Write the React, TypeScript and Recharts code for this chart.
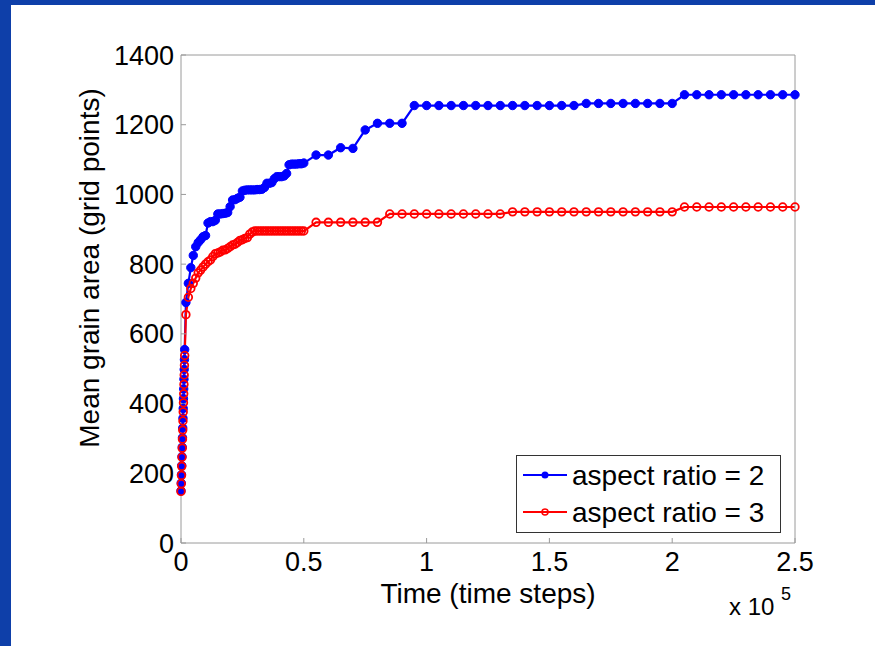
import React from "react";
import { LineChart, Line, XAxis, YAxis, Legend, Label } from "recharts";

// time steps (x axis is shown in units of 10^5)
const timeSteps = [
  0, 100, 200, 300, 400, 500, 600, 700, 800, 900, 1000, 1100, 1200, 1300, 1400, 1500,
  2000, 3000, 4000, 5000, 6000, 7000, 8000, 9000, 10000, 11000, 12000, 13000, 14000, 15000,
  16000, 17000, 18000, 19000, 20000, 21000, 22000, 23000, 24000, 25000, 26000, 27000, 28000,
  29000, 30000, 31000, 32000, 33000, 34000, 35000, 36000, 37000, 38000, 39000, 40000, 41000,
  42000, 43000, 44000, 45000, 46000, 47000, 48000, 49000, 50000,
  55000, 60000, 65000, 70000, 75000, 80000, 85000, 90000, 95000, 100000, 105000, 110000,
  115000, 120000, 125000, 130000, 135000, 140000, 145000, 150000, 155000, 160000, 165000,
  170000, 175000, 180000, 185000, 190000, 195000, 200000, 205000, 210000, 215000, 220000,
  225000, 230000, 235000, 240000, 245000, 250000,
];

// aspect ratio = 2
const areaRatio2 = [
  150, 172, 196, 222, 248, 275, 302, 330, 358, 386, 414, 442, 470, 498, 526, 555,
  690, 745, 790, 825, 850, 862, 870, 879, 882, 918, 922, 922, 926, 944,
  944, 945, 946, 948, 965, 984, 985, 989, 992, 1010, 1012, 1013, 1013,
  1013, 1013, 1014, 1014, 1015, 1020, 1032, 1032, 1034, 1045, 1051, 1051, 1051,
  1053, 1060, 1085, 1087, 1087, 1087, 1088, 1088, 1090,
  1113, 1113, 1134, 1132, 1185, 1204, 1204, 1204, 1255, 1255, 1255, 1255,
  1255, 1255, 1255, 1255, 1255, 1255, 1255, 1255, 1255, 1255, 1261,
  1261, 1261, 1261, 1261, 1261, 1261, 1261, 1286, 1286, 1286, 1286,
  1286, 1286, 1286, 1286, 1286, 1286,
];

// aspect ratio = 3
const areaRatio3 = [
  148, 170, 194, 220, 246, 272, 298, 324, 350, 376, 402, 428, 455, 482, 510, 538,
  655, 705, 730, 745, 760, 775, 783, 792, 800, 807, 812, 822, 830, 832,
  835, 840, 841, 845, 850, 855, 857, 862, 868, 870, 874, 876, 886,
  892, 895, 895, 895, 895, 895, 895, 895, 895, 895, 895, 895, 895,
  895, 895, 895, 895, 895, 895, 895, 895, 895,
  920, 920, 920, 920, 920, 920, 944, 944, 944, 944, 944, 944,
  944, 944, 944, 944, 950, 950, 950, 950, 950, 950, 950,
  950, 950, 950, 950, 950, 950, 950, 964, 964, 964, 964,
  964, 964, 964, 964, 964, 964,
];

const xTicks = [0, 50000, 100000, 150000, 200000, 250000];
const yTicks = [0, 200, 400, 600, 800, 1000, 1200, 1400];
const seriesNames = ["aspect ratio = 2", "aspect ratio = 3"];

const data = timeSteps.map((t, i) => ({ t, r2: areaRatio2[i], r3: areaRatio3[i] }));

const FONT = '"Liberation Sans", Arial, Helvetica, sans-serif';
const AXIS = "#9a9a9a";

const fmtX = (v: number) => String(v / 100000);

function LegendBox() {
  return (
    <svg width={265} height={78} style={{ display: "block" }}>
      <rect x={0.5} y={0.5} width={264} height={77} fill="#fff" stroke="#333" />
      {seriesNames.map((name, i) => {
        const cy = 20 + i * 37;
        const color = i === 0 ? "#0000ff" : "#ff0000";
        return (
          <g key={name}>
            <line x1={7} x2={51} y1={cy} y2={cy} stroke={color} strokeWidth={2} />
            {i === 0 ? (
              <circle cx={29} cy={cy} r={3.5} fill={color} />
            ) : (
              <circle cx={29} cy={cy} r={3} fill="none" stroke={color} strokeWidth={1.5} />
            )}
            <text x={56} y={cy + 10} fontSize={28} fontFamily={FONT} fill="#000">
              {name}
            </text>
          </g>
        );
      })}
    </svg>
  );
}

export default function App() {
  return (
    <div style={{ position: "absolute", left: 0, top: 0, width: 875, height: 646, background: "#0e3fa9" }}>
      <div style={{ position: "absolute", left: 11, top: 5, width: 864, height: 641, background: "#fff" }} />
      <div style={{ position: "absolute", left: 0, top: 0 }}>
        <LineChart
          width={875}
          height={646}
          data={data}
          margin={{ top: 54, right: 79, bottom: 73, left: 121 }}
          style={{ fontFamily: FONT }}
        >
          <XAxis
            dataKey="t"
            type="number"
            domain={[0, 250000]}
            ticks={xTicks}
            interval={0}
            tickFormatter={fmtX}
            height={30}
            stroke={AXIS}
            tickSize={-5}
            tickMargin={14}
            tick={{ fill: "#000", fontSize: 27, fontFamily: FONT }}
          >
            <Label
              content={(p: any) => {
                const vb = p.viewBox || { x: 181, y: 543, width: 614 };
                return (
                  <g fontFamily={FONT} fill="#000">
                    <text x={vb.x + vb.width / 2} y={vb.y + 60} textAnchor="middle" fontSize={28}>
                      Time (time steps)
                    </text>
                    <text x={vb.x + vb.width - 66} y={vb.y + 72} fontSize={24}>
                      x 10
                    </text>
                    <text x={vb.x + vb.width - 14} y={vb.y + 57} fontSize={18}>
                      5
                    </text>
                  </g>
                );
              }}
            />
          </XAxis>
          <XAxis
            xAxisId="top"
            orientation="top"
            type="number"
            domain={[0, 250000]}
            ticks={xTicks}
            interval={0}
            allowDataOverflow
            height={1}
            stroke={AXIS}
            tickSize={-5}
            tick={false}
          />
          <YAxis
            type="number"
            domain={[0, 1400]}
            ticks={yTicks}
            interval={0}
            width={60}
            stroke={AXIS}
            tickSize={-5}
            tickMargin={12}
            tick={{ fill: "#000", fontSize: 27, fontFamily: FONT }}
          >
            <Label
              content={(p: any) => {
                const vb = p.viewBox || { x: 121, y: 55, height: 488 };
                const cx = vb.x - 32;
                const cy = vb.y + 213;
                return (
                  <text
                    x={cx}
                    y={cy}
                    transform={`rotate(-90, ${cx}, ${cy})`}
                    textAnchor="middle"
                    dominantBaseline="central"
                    fontSize={28}
                    fontFamily={FONT}
                    fill="#000"
                  >
                    Mean grain area (grid points)
                  </text>
                );
              }}
            />
          </YAxis>
          <YAxis
            yAxisId="right"
            orientation="right"
            type="number"
            domain={[0, 1400]}
            ticks={yTicks}
            interval={0}
            allowDataOverflow
            width={1}
            stroke={AXIS}
            tickSize={-5}
            tick={false}
          />
          <Legend
            layout="horizontal"
            verticalAlign="middle"
            align="center"
            content={() => <LegendBox />}
            wrapperStyle={{ left: 516, top: 455, width: 265, height: 78 }}
          />
          <Line
            type="linear"
            dataKey="r2"
            name={seriesNames[0]}
            stroke="#0000ff"
            strokeWidth={2.2}
            dot={{ r: 4.2, fill: "#0000ff", stroke: "#0000ff", strokeWidth: 1 }}
            activeDot={false}
            isAnimationActive={false}
          />
          <Line
            type="linear"
            dataKey="r3"
            name={seriesNames[1]}
            stroke="#ff0000"
            strokeWidth={2.2}
            dot={{ r: 3.8, fill: "none", stroke: "#ff0000", strokeWidth: 1.8 }}
            activeDot={false}
            isAnimationActive={false}
          />
        </LineChart>
      </div>
    </div>
  );
}
